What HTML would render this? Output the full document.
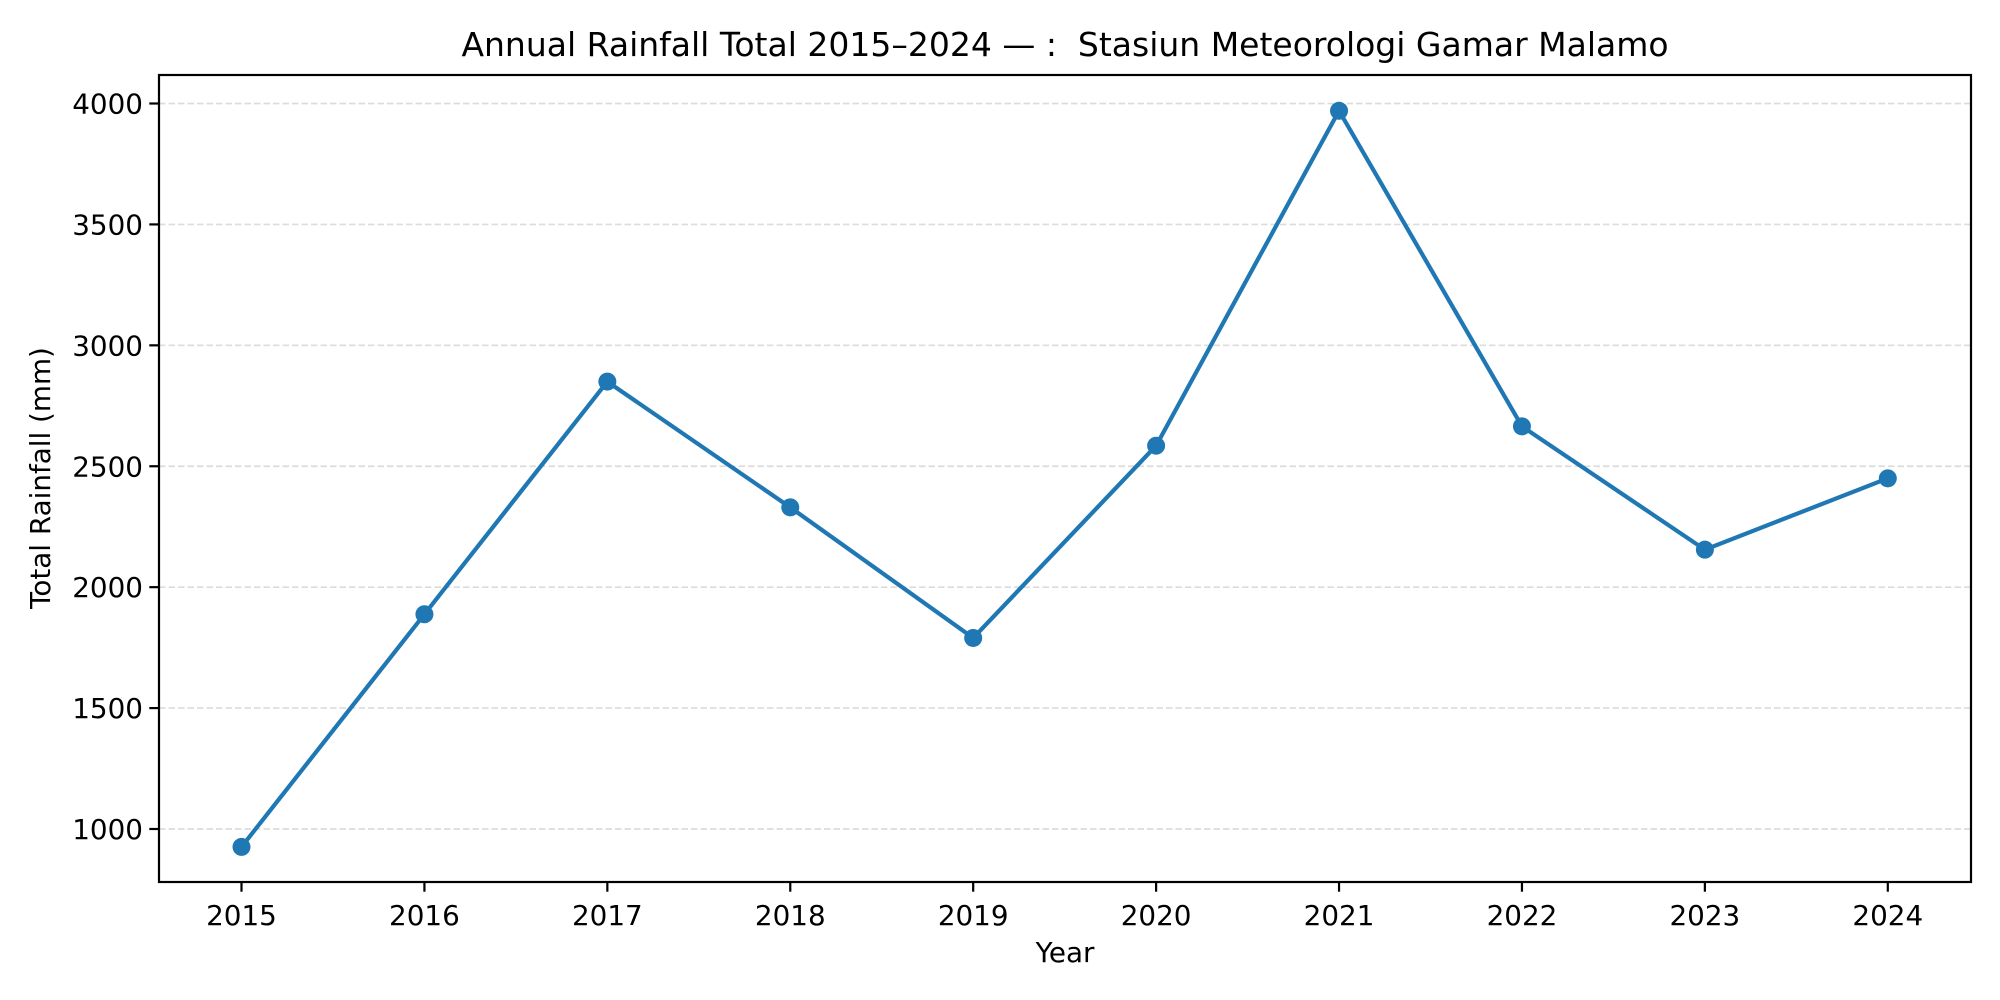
<!DOCTYPE html>
<html><head><meta charset="utf-8"><style>
html,body{margin:0;padding:0;background:#fff}
svg{display:block;font-family:"DejaVu Sans","Liberation Sans",sans-serif}
</style></head><body>
<svg id="chart" width="2000" height="1000" viewBox="0 0 2000 1000">
<rect width="2000" height="1000" fill="#fff"/>
<g id="grid"></g>
<g id="series"></g>
<g id="axes"></g>
<text x="1065" y="56" font-size="33" text-anchor="middle" style="white-space:pre">Annual Rainfall Total 2015–2024 — :&#160; Stasiun Meteorologi Gamar Malamo</text>
<text x="1065" y="962" font-size="27.8" text-anchor="middle">Year</text>
<text transform="translate(50,478) rotate(-90)" font-size="27.8" text-anchor="middle">Total Rainfall (mm)</text>
</svg>
<script>
const years = [2015,2016,2017,2018,2019,2020,2021,2022,2023,2024];
const rainfall = [926,1888,2850,2330,1790,2585,3970,2665,2155,2450];
const yTicks = [1000,1500,2000,2500,3000,3500,4000];

const L=159, R=1971, T=75, B=882;
function xs(i){ return 241.5 + (1887.8-241.5)*(i)/(years.length-1); }
function ys(v){ return 829 - (v-1000)*(829-103.5)/3000; }
const NS='http://www.w3.org/2000/svg';
function mk(tag,attrs,parent){const e=document.createElementNS(NS,tag);for(const k in attrs)e.setAttribute(k,attrs[k]);parent.appendChild(e);return e;}
const grid=document.getElementById('grid'), series=document.getElementById('series'), axes=document.getElementById('axes');

yTicks.forEach(t=>{
  const y=ys(t);
  const g=mk('line',{x1:L,x2:R,y1:y,y2:y,stroke:'#dcdcdc','stroke-width':1.7,'stroke-dasharray':'6.5,3'},grid);
  
  
  const tk=mk('line',{x1:L-9.7,x2:L,y1:y,y2:y,stroke:'#000','stroke-width':2.2},axes);
  
  
  const tx=mk('text',{x:L-16,y:y+10,'font-size':27.8,'text-anchor':'end'},axes);
  tx.textContent=t;
  
  
});
years.forEach((yr,i)=>{
  const x=xs(i);
  const tk=mk('line',{x1:x,x2:x,y1:B,y2:B+9.7,stroke:'#000','stroke-width':2.2},axes);
  
  
  const tx=mk('text',{x:x,y:B+43,'font-size':27.8,'text-anchor':'middle'},axes);
  tx.textContent=yr;
  
  
});
const frame=mk('rect',{x:L,y:T,width:R-L,height:B-T,fill:'none',stroke:'#000','stroke-width':2.2},axes);



const pts=rainfall.map((v,i)=>xs(i)+','+ys(v)).join(' ');
const line=mk('polyline',{points:pts,fill:'none',stroke:'#1f77b4','stroke-width':4.2,'stroke-linejoin':'round'},series);


rainfall.forEach((v,i)=>{
  const c=mk('circle',{cx:xs(i),cy:ys(v),r:9,fill:'#1f77b4'},series);
  
  
});
</script>
</body></html>
